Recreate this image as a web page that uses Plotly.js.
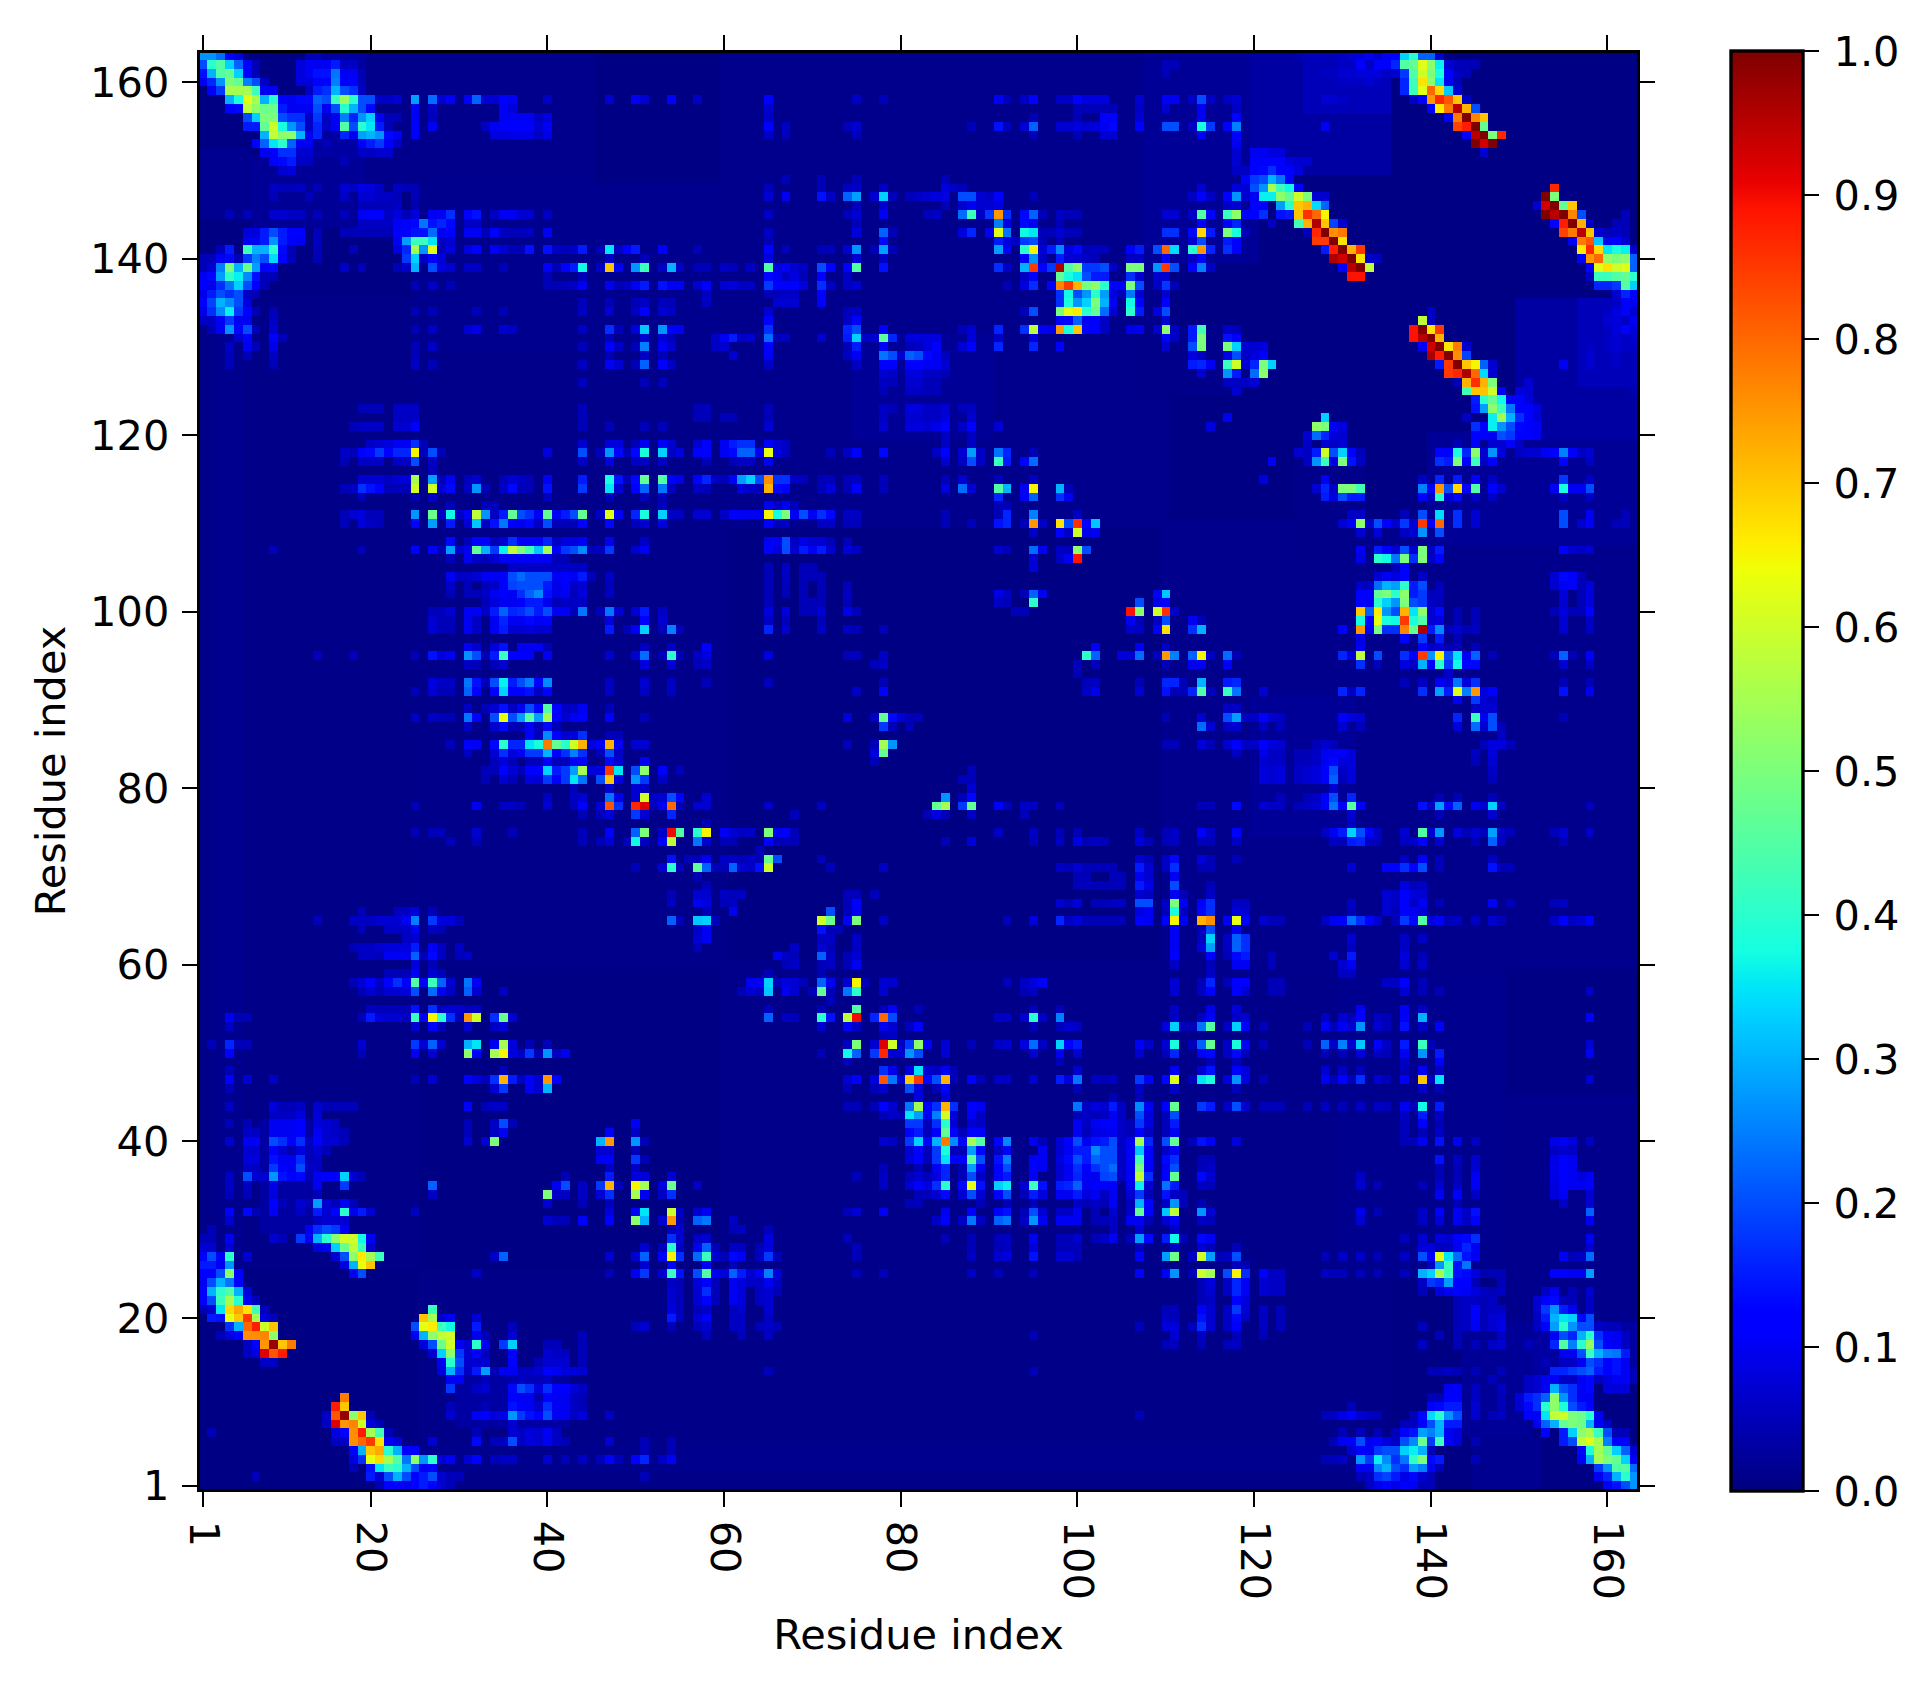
<!DOCTYPE html>
<html><head><meta charset="utf-8">
<script src="https://cdn.plot.ly/plotly-3.0.1.min.js"></script>
<style>html,body{margin:0;padding:0;background:#fff}</style></head>
<body><div id="chart" style="width:1927px;height:1689px"></div>
<script>
const tickValues=[1,20,40,60,80,100,120,140,160];
const tickLabels=['1','20','40','60','80','100','120','140','160'];
const colorTicks=[0,.1,.2,.3,.4,.5,.6,.7,.8,.9,1];
const axisTitle='Residue index';
const residueCount=163;
// faint haze read as blocks: x0,x1,y0,y1,value
const hazeBlocks=[
[1,25,26,135,.008],[3,5,26,135,.014],[1,6,145,152,.015],[7,20,144,151,.02],[13,20,152,163,.03],[20,45,148,163,.012],
[25,60,60,130,.01],[25,60,130,148,.014],[60,110,110,163,.012],[8,14,30,42,.03],[9,13,36,40,.045],
[108,120,140,163,.02],[120,135,150,163,.03],[126,135,157,163,.05],[75,90,120,131,.02],[36,44,100,105,.06],[107,118,125,132,.01]];
// contact rows: y, then x,value pairs
const stripNorthWest=[
[163,1,.27,2,.27,3,.23,4,.11,5,.08,13,.05,14,.05],
[162,1,.2,2,.4,3,.45,4,.33,5,.22,6,.11,7,.05,12,.08,13,.1,14,.1,15,.1,16,.15,17,.06,18,.06],
[161,1,.14,2,.3,3,.45,4,.47,5,.33,6,.11,7,.05,12,.08,13,.1,14,.14,15,.14,16,.24,17,.1,18,.1,19,.05],
[160,1,.1,2,.16,3,.27,4,.5,5,.47,6,.25,7,.2,8,.06,12,.08,13,.08,14,.11,15,.12,16,.25,17,.11,18,.11,19,.05],
[159,2,.1,3,.18,4,.55,5,.55,6,.55,7,.42,8,.1,9,.1,13,.06,14,.15,15,.17,16,.3,17,.2,18,.17,19,.06],
[158,4,.3,5,.38,6,.62,7,.55,8,.3,9,.4,10,.11,11,.1,12,.13,13,.13,14,.22,15,.2,16,.42,17,.53,18,.4,19,.2,20,.2,21,.06,22,.06,23,.07,25,.28,27,.23,28,.07,29,.1,31,.1,32,.22,33,.07,34,.07,35,.11,36,.1,40,.06,47,.07,50,.1,51,.07,54,.11],
[157,4,.12,5,.13,6,.58,7,.52,8,.48,9,.48,10,.15,11,.1,12,.1,13,.1,14,.2,15,.1,16,.2,17,.4,18,.3,19,.2,20,.13,25,.1,27,.06,35,.1,36,.08],
[156,6,.2,7,.33,8,.5,9,.5,10,.2,11,.17,12,.17,13,.06,14,.18,15,.06,16,.1,17,.25,18,.16,19,.27,20,.33,21,.1,22,.05,23,.05,25,.1,27,.05,35,.1,36,.1,37,.1,38,.1,39,.06,40,.08],
[155,6,.15,7,.15,8,.47,9,.6,10,.38,11,.27,12,.2,13,.06,14,.16,15,.06,16,.1,17,.45,18,.2,19,.4,20,.35,21,.15,22,.05,25,.12,27,.1,33,.06,34,.1,35,.12,36,.12,37,.12,38,.12,39,.07,40,.1],
[154,8,.3,9,.58,10,.52,11,.52,12,.3,13,.1,14,.16,17,.16,18,.1,19,.28,20,.3,21,.27,22,.13,23,.1,25,.12,34,.08,35,.08,36,.09,37,.09,38,.09,39,.06,40,.09],
[153,7,.12,8,.22,9,.35,10,.4,11,.22,12,.1,13,.1,15,.05,19,.12,20,.15,21,.18,22,.12,23,.06],
[152,8,.1,9,.12,10,.17,11,.17,12,.07,13,.07,19,.06,20,.06,21,.07,22,.07],
[151,9,.11,10,.13,11,.15,12,.06,13,.06,17,.05],
[150,10,.07,11,.08],
[148,9,.06,10,.05,11,.05,12,.06,14,.05,17,.07,18,.06,19,.09,20,.08,21,.06,23,.06,24,.05,25,.05],
[147,9,.05,13,.05,17,.06,19,.07,20,.07,21,.06,22,.06,23,.05,25,.05],
[146,19,.05,20,.05,21,.05,22,.05,23,.06,25,.04],
[145,4,.05,6,.05,9,.07,10,.07,11,.06,12,.06,14,.05,17,.05,19,.1,20,.11,21,.11,22,.06,23,.08,24,.05,25,.08,27,.1,28,.1,29,.17,31,.11,32,.14,34,.06,35,.1,36,.1,37,.07,38,.07,40,.06],
[144,19,.06,20,.06,21,.06,22,.06,23,.1,24,.11,25,.13,26,.24,27,.14,28,.16,29,.13,31,.06,32,.06],
[143,6,.08,7,.08,8,.15,9,.2,10,.15,11,.11,12,.11,14,.05,17,.05,18,.05,19,.05,20,.05,21,.05,22,.05,23,.11,24,.11,25,.14,26,.14,27,.23,28,.1,29,.12,31,.1,32,.1,33,.05,34,.11,35,.06,36,.05,37,.05,38,.06,40,.1],
[142,6,.1,7,.1,8,.15,9,.27,10,.15,11,.11,12,.1,14,.06,23,.1,24,.28,25,.42,26,.42,27,.35,28,.06,29,.07],
[141,3,.05,4,.15,6,.42,7,.3,8,.3,9,.4,10,.13,11,.05,14,.05,18,.05,23,.08,24,.16,25,.55,26,.27,27,.62,28,.05,29,.08,31,.08,32,.12,34,.1,35,.07,36,.05,37,.05,38,.14,40,.14,41,.06,42,.05,43,.06,44,.15,46,.05,47,.35,48,.06,49,.11,50,.15,53,.11],
[140,1,.05,2,.05,3,.1,4,.13,5,.05,6,.18,7,.25,8,.2,9,.34,10,.11,11,.05,14,.05,24,.18,25,.33,26,.06,27,.11,28,.08,47,.06,51,.05],
[139,1,.05,2,.07,3,.25,4,.5,5,.3,6,.48,7,.28,8,.11,9,.13,17,.06,19,.05,23,.05,24,.06,25,.3,27,.2,28,.08,29,.07,31,.06,32,.06,35,.05,40,.1,41,.05,42,.11,43,.15,44,.37,46,.06,47,.7,48,.1,50,.27,51,.42,53,.06,54,.3,55,.06],
[138,1,.1,2,.13,3,.28,4,.41,5,.36,6,.26,7,.14,8,.05,9,.05,40,.05,44,.05],
[137,1,.11,2,.09,3,.17,4,.24,5,.33,6,.2,7,.12,8,.05,25,.05,27,.06,29,.05,40,.05,41,.05,42,.05,43,.06,44,.1,47,.1,48,.05,49,.06,50,.1,51,.15,53,.14,54,.1],
[136,1,.09,2,.15,3,.2,4,.17,5,.2,6,.06,7,.05],
[135,1,.11,2,.19,3,.3,4,.26,5,.2,6,.08,44,.05,47,.05,50,.05,51,.06,53,.05,54,.05],
[134,1,.09,2,.17,3,.26,4,.36,5,.18,6,.11,7,.05,9,.05,25,.05,27,.05,32,.05,35,.05,44,.06,47,.07,50,.06,51,.11,53,.07,54,.06],
[133,1,.06,2,.06,3,.1,4,.18,5,.1,6,.1,9,.06],
[132,2,.05,3,.1,4,.27,5,.12,6,.2,7,.05,9,.07,25,.05,27,.06,31,.07,32,.09,35,.07,36,.06,44,.06,47,.17,48,.05,50,.08,51,.32,53,.27,54,.11],
[131,5,.07,6,.11,9,.11,10,.05,47,.05,51,.07,53,.07,54,.05],
[130,4,.06,6,.1,7,.05,9,.09,25,.05,27,.06,44,.05,47,.11,48,.06,50,.05,51,.25,53,.1,54,.07],
[129,4,.05,6,.05,9,.06,25,.05,47,.05,51,.06,53,.05],
[128,4,.05,9,.05,25,.06,27,.05,44,.06,47,.1,48,.07,50,.05,51,.22,53,.11,54,.06],
[126,44,.05,51,.05,53,.05],
[123,19,.05,20,.05,21,.05,23,.06,24,.06,25,.06,44,.05],
[122,23,.06,24,.06,25,.06,44,.05],
[121,18,.05,19,.06,20,.06,21,.06,23,.07,24,.07,25,.11,44,.05,47,.05,51,.05,53,.05],
[119,20,.06,21,.07,22,.08,23,.1,24,.1,25,.17,26,.05,44,.07,47,.08,48,.08,50,.05,51,.1,53,.11,54,.07],
[118,17,.06,18,.05,19,.11,20,.13,21,.18,22,.11,23,.16,24,.16,25,.65,26,.05,27,.2,28,.05,40,.08,44,.2,46,.05,47,.27,48,.11,49,.05,50,.13,51,.38,53,.33,54,.06],
[117,17,.05,19,.06,20,.06,21,.06,23,.06,24,.06,25,.2,27,.06,44,.06,47,.08,50,.06,51,.06,53,.06],
[116,27,.05],
[115,19,.07,20,.07,21,.07,22,.06,23,.07,24,.08,25,.55,27,.28,28,.05,29,.1,31,.05,32,.07,35,.05,36,.07,37,.06,38,.05,40,.1,44,.15,47,.38,48,.14,49,.05,50,.13,51,.47,53,.45,54,.11],
[114,17,.05,18,.06,19,.17,20,.14,21,.12,22,.05,23,.05,24,.05,25,.6,27,.6,28,.07,29,.13,31,.06,32,.27,33,.05,35,.06,36,.13,37,.05,38,.05,40,.14,44,.18,47,.35,48,.07,50,.12,51,.22,53,.24,54,.06],
[113,19,.05,25,.05,27,.06,40,.05,47,.05,51,.05,53,.05],
[112,29,.05,33,.05,34,.05,53,.05],
[111,17,.05,18,.07,19,.08,20,.05,21,.05,25,.27,27,.48,28,.06,29,.37,30,.06,31,.1,32,.58,33,.27,34,.06,35,.15,36,.47,37,.2,38,.17,39,.1,40,.47,41,.1,42,.15,43,.2,44,.47,46,.06,47,.62,48,.1,50,.16,51,.38,53,.33,54,.06],
[110,17,.05,19,.08,20,.06,21,.05,25,.12,27,.28,29,.15,31,.07,32,.32,33,.06,34,.14,35,.24,36,.12,37,.1,38,.13,39,.06,40,.2,41,.05,42,.05,43,.05,44,.12,47,.13,50,.05,51,.07,53,.08]];
const stripWest=[
[108,29,.13,31,.05,32,.12,33,.12,34,.05,35,.07,36,.17,37,.11,38,.12,39,.11,40,.16,41,.06,42,.08,43,.08,44,.1,47,.1,51,.06],
[107,9,.05,19,.05,25,.11,27,.12,28,.05,29,.28,30,.07,31,.1,32,.47,33,.3,34,.18,35,.36,36,.58,37,.5,38,.43,39,.32,40,.55,41,.12,42,.18,43,.2,44,.26,45,.05,46,.06,47,.18,50,.07,51,.1],
[106,29,.05,31,.1,32,.06,33,.05,34,.07,35,.1,36,.1,37,.1,38,.1,39,.1,40,.1,41,.05,42,.05],
[104,29,.1,30,.06,31,.06,32,.07,33,.1,34,.1,35,.11,36,.2,37,.23,38,.2,39,.2,40,.2,41,.1,42,.12,43,.1,44,.15,45,.05,47,.06],
[103,29,.06,31,.05,33,.05,34,.06,35,.11,36,.19,37,.2,38,.2,39,.2,40,.15,41,.09,42,.11,44,.07,47,.05],
[102,29,.05,31,.05,32,.05,33,.06,34,.1,35,.11,36,.1,37,.17,38,.22,39,.26,40,.14,41,.09,42,.1,43,.05,44,.08,47,.06],
[101,33,.05,34,.08,35,.1,36,.1,37,.11,38,.15,39,.15,40,.1,41,.05],
[100,27,.05,28,.05,29,.07,31,.1,32,.1,33,.06,34,.15,35,.22,36,.16,37,.17,38,.2,39,.15,40,.2,41,.1,42,.1,43,.05,44,.24,46,.05,47,.24,48,.07,50,.07,51,.15,53,.06],
[99,27,.07,28,.05,29,.05,31,.1,32,.06,34,.1,35,.16,36,.1,37,.1,38,.13,39,.1,40,.11,47,.08,51,.11,53,.07],
[98,27,.07,28,.05,29,.05,31,.1,32,.06,34,.1,35,.15,36,.07,37,.07,38,.08,39,.07,40,.07,47,.15,49,.05,50,.1,51,.33,53,.05,54,.25,55,.06],
[96,31,.1,32,.07,34,.08,35,.14,37,.1,38,.1,39,.1,40,.05,51,.06,54,.06],
[95,14,.05,18,.05,25,.05,27,.14,28,.08,29,.1,31,.27,32,.2,33,.05,34,.15,35,.42,36,.11,37,.11,38,.12,40,.1,47,.07,50,.07,51,.23,53,.05,54,.4,55,.05],
[94,31,.06,32,.05,34,.05,35,.07,51,.08,54,.07],
[92,27,.08,28,.06,29,.06,31,.24,32,.14,33,.05,34,.2,35,.36,36,.15,37,.2,38,.25,39,.11,40,.26,47,.06,51,.07,54,.06],
[91,25,.05,27,.07,28,.05,29,.05,31,.22,32,.11,34,.11,35,.33,36,.11,37,.11,38,.14,39,.06,40,.11,47,.06,51,.06,54,.06],
[89,31,.06,33,.05,34,.07,35,.14,36,.06,37,.1,38,.2,39,.13,40,.45,41,.12,42,.06,43,.06,44,.1,47,.05],
[88,25,.06,27,.06,28,.05,29,.05,31,.24,32,.12,34,.2,35,.63,36,.2,37,.28,38,.46,39,.28,40,.55,41,.11,42,.07,43,.1,44,.11,47,.12,51,.05],
[87,31,.06,34,.07,35,.13,36,.05,37,.05,38,.12,39,.05,40,.13,41,.05],
[86,38,.11,39,.05,40,.26,41,.11,42,.07,43,.08,44,.17,47,.05,48,.05],
[85,29,.05,31,.11,32,.1,34,.13,35,.4,36,.16,37,.16,38,.35,39,.38,40,.78,41,.47,42,.4,43,.6,44,.72,45,.08,46,.11,47,.72,48,.1,50,.07,51,.07],
[84,31,.06,34,.07,35,.17,36,.08,37,.1,38,.18,39,.18,40,.3,41,.12,42,.17,43,.25,44,.17,46,.05,47,.2,48,.06],
[83,34,.05,35,.08,36,.05,38,.05,39,.05,40,.11,41,.05,42,.05,43,.1,44,.12,47,.13,48,.07,51,.1],
[82,33,.05,34,.05,35,.11,36,.07,37,.05,38,.11,39,.11,40,.33,41,.15,42,.18,43,.28,44,.55,45,.08,46,.08,47,.85,48,.35,50,.2,51,.52,53,.11,55,.05],
[81,33,.05,35,.07,36,.05,38,.08,39,.07,40,.18,41,.11,42,.18,43,.35,44,.24,46,.2,47,.7,48,.08,50,.27,51,.18,53,.06],
[80,43,.05,47,.07,50,.07,51,.06],
[79,40,.06,43,.06,44,.07,47,.24,48,.09,50,.07,51,.6,52,.06,53,.07,54,.2,55,.12],
[78,25,.05,32,.1,35,.06,36,.06,37,.05,40,.07,43,.05,44,.11,46,.07,47,.82,48,.17,50,.87,51,.92,52,.05,53,.1,54,.8],
[77,44,.05,46,.05,47,.08,50,.18,51,.07,54,.16],
[75,25,.05,27,.05,28,.05,32,.07,36,.05,44,.05,47,.11,50,.22,51,.5,53,.06,54,.9,55,.42],
[74,29,.05,32,.05,44,.05,46,.05,47,.07,49,.05,50,.37,51,.06,53,.11,54,.58],
[72,54,.14],
[71,50,.05,53,.07,54,.4,55,.05],
[67,54,.06],[68,54,.05],
[66,19,.05,23,.05,24,.06,25,.08,27,.05],
[65,14,.05,18,.06,19,.06,20,.06,21,.07,22,.07,23,.07,24,.1,25,.25,27,.18,28,.08,29,.08,30,.05,54,.22],
[64,19,.05,22,.06,23,.06,24,.06,25,.1,27,.06,28,.05],
[63,24,.06,25,.07],
[62,18,.05,19,.06,20,.06,21,.07,22,.08,23,.08,24,.08,25,.15,27,.1,28,.06,30,.06],
[61,19,.06,20,.06,21,.05,22,.1,23,.1,24,.1,25,.22,26,.05,27,.13,28,.06,30,.05,31,.06],
[60,25,.08,27,.05],
[59,22,.05,23,.05,24,.05,25,.1,27,.07,28,.05],
[58,18,.05,19,.07,20,.11,21,.06,22,.11,23,.17,24,.11,25,.45,26,.1,27,.42,28,.22,29,.07,31,.24,32,.1],
[57,19,.05,20,.07,21,.05,22,.07,23,.07,24,.08,25,.2,27,.23,28,.1,29,.06,31,.22,32,.07,35,.06],
[55,20,.06,21,.05,22,.05,23,.05,24,.05,25,.17,27,.2,28,.1,29,.07,30,.07,31,.07,32,.07]];
const stripSouthWest=[
[54,4,.1,5,.05,6,.05,19,.2,20,.06,21,.06,22,.06,23,.06,24,.06,25,.42,26,.1,27,.65,28,.38,29,.2,30,.08,31,.76,32,.6,34,.15,35,.5,36,.07],
[53,4,.06,25,.07,27,.12,28,.05,31,.07,34,.07,35,.1],
[51,2,.05,4,.16,5,.05,6,.05,19,.07,25,.2,27,.2,28,.07,31,.3,32,.35,34,.11,35,.58,36,.07,38,.05,40,.05],
[50,4,.11,19,.05,25,.11,27,.07,31,.53,32,.1,34,.58,35,.63,36,.06,37,.07,38,.2,39,.06,40,.3,41,.06,42,.1],
[48,4,.05],
[47,4,.11,6,.07,9,.06,25,.05,27,.05,31,.11,32,.11,34,.17,35,.68,36,.17,37,.06,38,.13,39,.08,40,.76,41,.12],
[46,4,.05,34,.06,35,.2,38,.11,39,.07,40,.3],
[44,4,.06,9,.08,10,.05,11,.05,12,.06,14,.07,15,.05,16,.05,17,.05,18,.05,31,.12,33,.05,34,.06],
[43,9,.06,10,.06,11,.06,12,.08,14,.08],
[42,4,.05,6,.05,9,.1,10,.1,11,.1,12,.12,14,.08,15,.07,16,.06,31,.06,34,.08,35,.24,36,.05],
[41,6,.06,7,.06,9,.1,10,.1,11,.1,12,.12,14,.1,15,.07,16,.06,17,.05,34,.07,35,.12],
[40,4,.07,6,.1,7,.1,9,.2,10,.17,11,.11,12,.17,13,.06,14,.11,15,.07,16,.07,17,.05,31,.07,33,.07,34,.47,46,.3,47,.75,50,.27],
[39,6,.07,7,.07,9,.11,10,.07,12,.08,13,.05,14,.07,15,.05,46,.07,47,.07,50,.05],
[38,6,.08,7,.08,9,.14,10,.1,11,.1,12,.17,13,.05,14,.06,46,.1,47,.12,50,.18,51,.05],
[37,6,.06,7,.06,9,.18,10,.11,11,.1,12,.2,13,.06,14,.06,50,.06],
[36,4,.06,6,.2,7,.07,8,.07,9,.27,10,.14,11,.11,12,.13,14,.1,15,.12,16,.12,17,.33,18,.07,19,.05,47,.15,50,.08,51,.08],
[35,4,.06,6,.06,9,.09,14,.1,17,.18,27,.2,41,.1,42,.2,44,.06,46,.18,47,.72,48,.05,50,.65,51,.55,53,.08,54,.48],
[34,4,.05,6,.05,9,.08,14,.05,40,.5,41,.06,42,.06,46,.07,47,.17,50,.55,51,.1,53,.06,54,.17],
[33,9,.12,10,.05,12,.07,13,.05,14,.28,15,.07,16,.05,17,.1,18,.05,47,.05],
[32,4,.11,6,.13,7,.05,9,.1,12,.06,14,.15,15,.07,16,.11,17,.4,18,.09,19,.15,20,.07,25,.05,47,.08,50,.11,51,.35,54,.6,55,.06],
[31,4,.07,14,.06,15,.07,16,.07,17,.07,41,.05,42,.05,44,.11,47,.11,50,.52,51,.3,53,.07,54,.75,55,.05],
[30,2,.05,13,.1,14,.17,15,.2,16,.18,17,.1,54,.05],
[29,1,.05,2,.05,4,.1,9,.07,10,.05,12,.18,13,.1,14,.3,15,.4,16,.52,17,.6,18,.6,19,.37,20,.1,54,.17],
[28,1,.07,2,.07,4,.07,14,.08,15,.1,16,.33,17,.48,18,.58,19,.42,20,.07,51,.07,54,.4,55,.06],
[27,1,.12,2,.2,3,.12,4,.4,6,.07,16,.07,17,.2,18,.52,19,.66,20,.55,21,.42,34,.06,35,.22,47,.07,50,.07,51,.22,53,.11,54,.65,55,.17],
[26,1,.15,2,.15,3,.1,4,.27,17,.08,18,.3,19,.63,20,.7,51,.07,54,.11],
[25,1,.11,2,.11,3,.2,4,.52,5,.12,18,.1,19,.2,32,.06,50,.1,51,.18,54,.42,55,.14],
[24,1,.1,2,.2,3,.3,4,.24,5,.11],
[23,1,.11,2,.3,3,.4,4,.45,5,.3,6,.08,54,.07],
[22,1,.12,2,.2,3,.42,4,.55,5,.4,6,.1,7,.05,54,.07],
[21,1,.05,2,.07,3,.35,4,.68,5,.73,6,.67,7,.43,8,.05,54,.08],
[20,2,.15,3,.14,4,.63,5,.7,6,.85,7,.55,8,.08,9,.05,54,.15],
[19,4,.17,5,.3,6,.8,7,.88,8,.6,9,.7,54,.05],
[18,3,.05,4,.08,5,.12,6,.76,7,.76,8,.77,9,.52],
[17,6,.06,7,.12,8,.75,9,.98,10,.7,11,.78],
[16,6,.06,7,.08,8,.92,9,.82,10,.88],
[15,8,.06,9,.06],
[7,2,.05]];
const stripNorthCentre=[
[158,57,.06,65,.12,75,.06,78,.05,91,.1,92,.05,94,.06,95,.12,98,.06,99,.06,100,.12,101,.08,102,.08,103,.08,107,.07,110,.08,111,.08],
[157,65,.07,100,.05,101,.05,102,.05,103,.05,104,.05,107,.06],
[156,65,.06,95,.05,100,.05,103,.11,104,.12,107,.07],
[155,65,.12,67,.06,74,.05,75,.07,88,.05,91,.14,92,.05,94,.07,95,.22,98,.07,99,.07,100,.08,101,.07,102,.08,103,.1,104,.13,107,.12,110,.2,111,.2],
[154,65,.06,67,.05,75,.05,95,.05,100,.05,103,.07,104,.07],
[149,67,.05,71,.05,75,.05,85,.05],
[148,65,.05,71,.05,74,.06,75,.06,78,.06,85,.08,86,.06,87,.05],
[147,65,.07,67,.1,71,.14,72,.06,74,.22,75,.28,77,.07,78,.33,79,.05,81,.05,82,.06,83,.07,84,.08,85,.08,87,.2,88,.2,89,.07,90,.06,91,.11,95,.05],
[146,75,.05,78,.07,85,.05,87,.07,88,.1,89,.07,90,.07,91,.08],
[145,65,.06,74,.05,75,.07,78,.1,83,.05,84,.06,87,.23,88,.42,89,.06,90,.18,91,.75,92,.17,94,.13,95,.22,96,.05,98,.06,99,.05,100,.05,110,.06,111,.06],
[144,75,.05,91,.25,92,.08,94,.13,95,.1,98,.05],
[143,65,.06,75,.08,78,.22,79,.05,87,.08,88,.16,90,.1,91,.62,92,.24,94,.37,95,.35,96,.05,97,.05,98,.07,99,.05,100,.05,110,.17,111,.17],
[142,65,.05,78,.13,91,.15,92,.08,93,.06,94,.18,95,.2,96,.05,98,.05],
[141,57,.05,65,.11,67,.05,71,.05,72,.05,74,.07,75,.27,77,.05,78,.28,79,.05,91,.28,92,.1,94,.4,95,.65,96,.07,97,.15,98,.26,99,.08,100,.13,101,.05,102,.06,103,.05,106,.11,107,.15,109,.2,110,.82,111,.34],
[140,65,.08,75,.07,78,.06,94,.12,95,.27,96,.06,98,.15,99,.07,100,.07,101,.06,102,.05,106,.06,107,.06,110,.11],
[139,57,.05,58,.05,60,.06,61,.05,63,.06,65,.45,66,.08,67,.1,68,.07,69,.06,71,.2,72,.11,74,.11,75,.45,78,.14,91,.17,92,.06,94,.3,95,.85,96,.11,97,.18,98,.96,99,.45,100,.52,101,.18,102,.18,103,.2,104,.06,106,.5,107,.5,109,.27,110,.86,111,.2],
[138,65,.13,66,.1,67,.06,68,.08,69,.05,71,.12,74,.06,94,.06,95,.11,98,.47,99,.38,100,.35,101,.2,102,.15,103,.15,106,.17,107,.07,109,.07],
[137,55,.1,57,.07,58,.11,60,.07,61,.08,62,.06,63,.06,65,.18,66,.12,67,.12,68,.12,69,.08,71,.17,72,.06,74,.06,75,.07,92,.05,94,.08,95,.17,97,.11,98,.77,99,.85,100,.72,101,.5,102,.52,103,.4,104,.11,105,.11,106,.5,107,.2,109,.06,110,.18,111,.06],
[136,58,.06,65,.05,66,.05,67,.06,68,.06,71,.11,98,.17,99,.37,100,.2,101,.27,102,.4,103,.28,104,.08,105,.05,106,.24,107,.07],
[135,58,.06,66,.07,67,.07,68,.07,71,.11,98,.17,99,.38,100,.27,101,.33,102,.5,103,.3,104,.1,106,.37,107,.11,110,.11],
[134,65,.07,74,.05,75,.06,94,.05,95,.2,98,.5,99,.63,100,.66,101,.4,102,.47,103,.23,104,.07,106,.4,107,.15,109,.08,110,.2],
[133,65,.11,74,.06,75,.12,98,.11,99,.13,100,.22,101,.1,102,.11,103,.06],
[132,55,.1,65,.17,74,.16,75,.2,78,.11,87,.05,88,.07,91,.16,94,.17,95,.58,96,.1,97,.09,98,.75,99,.38,100,.7,101,.11,102,.11,103,.06,106,.09,107,.1,109,.07,110,.52],
[131,59,.06,60,.1,61,.15,62,.06,63,.07,65,.23,66,.05,67,.06,71,.07,74,.15,75,.33,76,.06,77,.07,78,.46,79,.16,81,.08,82,.08,83,.08,84,.08,88,.08,91,.06,95,.08,110,.15,111,.06],
[130,59,.06,60,.07,65,.12,74,.05,75,.15,78,.12,81,.05,82,.06,83,.08,84,.12,87,.07,88,.12,91,.16,95,.16,98,.11],
[129,61,.07,65,.1,74,.06,75,.1,78,.24,79,.2,80,.07,81,.22,82,.2,83,.13,84,.1,85,.05],
[128,65,.06,75,.06,78,.12,79,.12,81,.12,82,.12,83,.1,84,.1,85,.07],
[127,78,.07,79,.06,81,.08,82,.08,83,.06,84,.06,85,.05],
[126,78,.06,79,.05,81,.07,82,.07,83,.05,84,.05],
[125,78,.05,81,.06,82,.06,83,.05,84,.05],
[123,57,.05,58,.05,65,.05,78,.06,79,.05,81,.08,82,.08,83,.06,84,.06,85,.07,87,.05,88,.06],
[122,57,.05,58,.05,60,.05,61,.05,65,.05,78,.06,81,.07,82,.07,83,.06,84,.06,85,.08,88,.07],
[121,65,.07,78,.07,81,.08,82,.08,83,.07,84,.09,85,.11,87,.06,88,.11,91,.07],
[120,85,.06,88,.06],
[119,57,.07,58,.11,60,.1,61,.15,62,.17,63,.17,65,.12,66,.07,67,.06,85,.06,88,.06],
[118,55,.08,57,.11,58,.11,60,.1,61,.13,62,.22,63,.22,64,.1,65,.63,66,.08,67,.06,72,.05,74,.06,75,.11,78,.13,84,.06,85,.12,87,.07,88,.28,89,.06,91,.24,92,.16,95,.05],
[117,58,.05,61,.05,62,.06,63,.06,65,.1,85,.07,87,.06,88,.2,89,.06,91,.42,92,.15,94,.11,95,.23],
[115,55,.09,57,.11,58,.16,59,.06,60,.05,61,.11,62,.28,63,.33,64,.2,65,.76,66,.17,67,.17,68,.06,69,.05,71,.05,72,.05,74,.05,75,.06,78,.05,85,.05,87,.07,91,.05,95,.06],
[114,57,.06,58,.05,62,.08,63,.06,64,.05,65,.72,66,.13,67,.11,71,.05,72,.08,74,.05,75,.11,78,.05,85,.08,87,.23,88,.07,91,.45,92,.3,94,.1,95,.65,98,.3,99,.05],
[113,91,.16,94,.1,95,.22,98,.17,99,.1],
[112,65,.1,66,.06,67,.1,68,.05,91,.05,92,.05],
[111,55,.06,57,.07,58,.07,60,.06,61,.12,62,.1,63,.1,64,.1,65,.65,66,.38,67,.5,68,.1,69,.2,70,.1,71,.17,72,.13,74,.06,75,.06,85,.06,91,.06,92,.1,95,.28],
[110,65,.11,66,.05,67,.06,71,.06,72,.06,74,.05,75,.05,88,.05,91,.11,92,.13,94,.05,95,.73,96,.05,98,.67,99,.2,100,.87,101,.07,102,.3],
[109,98,.1,99,.07,100,.55,101,.07,102,.06]];
const stripCentre=[
[108,65,.1,66,.1,67,.2,68,.06,69,.09,70,.07,71,.07,72,.05,74,.05],
[107,65,.11,66,.08,67,.2,68,.07,69,.15,70,.1,71,.15,72,.07,74,.08,75,.06,91,.06,92,.06,95,.25,96,.1,98,.06,99,.07,100,.55,101,.22],
[106,95,.07,98,.06,99,.1,100,.89],
[105,65,.05,67,.06,69,.05,70,.05],
[104,65,.05,67,.06,69,.05,70,.05,71,.05],
[103,65,.05,67,.05,69,.05,71,.05,74,.05],
[102,65,.05,67,.05,69,.05,71,.05,74,.06,91,.09,95,.27,96,.1,109,.1,110,.32],
[101,65,.05,69,.05,70,.05,71,.05,74,.05,91,.06,95,.4,107,.2,109,.09,110,.11],
[100,65,.08,67,.08,69,.05,70,.05,71,.07,74,.09,75,.05,93,.05,94,.05,106,.89,107,.52,109,.6,110,.86,111,.06],
[99,65,.06,67,.05,71,.05,106,.1,107,.05,109,.06,110,.2],
[98,55,.05,65,.16,67,.07,71,.06,74,.06,75,.05,78,.06,106,.06,109,.11,110,.67],
[96,58,.11,102,.1,107,.1,110,.06],
[95,57,.06,58,.08,65,.08,74,.05,75,.06,78,.07,101,.4,102,.22,105,.08,107,.23,109,.06,110,.75,111,.25],
[94,57,.05,58,.06,77,.05,78,.07,102,.05],
[92,58,.05,65,.05,101,.05,102,.06,107,.05,110,.16,111,.16],
[91,75,.06,78,.17,107,.07,110,.14,111,.05],
[88,74,.08,77,.06,78,.47,79,.13,80,.07,81,.05,82,.05,110,.05],
[87,78,.2,81,.05],
[85,74,.05,77,.06,78,.55,79,.27,110,.05,111,.05],
[84,77,.08,78,.47],
[79,85,.27,87,.05,88,.13],
[78,55,.05,57,.07,58,.07,65,.06,71,.06,84,.47,85,.55,87,.18,88,.47,91,.12,92,.05,94,.06,95,.06,98,.05],
[77,68,.05,83,.05,84,.08,85,.05,94,.05],
[75,55,.47,57,.4,58,.62,60,.1,61,.08,63,.06,65,.5,66,.1,67,.12,68,.05],
[74,57,.26,58,.06,60,.05,65,.12,66,.05,67,.05,68,.05],
[72,56,.05,57,.07,58,.11,60,.06,61,.05,63,.06,65,.47,66,.2,71,.05],
[71,57,.5,58,.2,59,.05,60,.24,61,.08,63,.06,64,.14,65,.62],
[68,57,.06,58,.06,60,.06,61,.05],
[67,57,.12,58,.08,60,.05,61,.11],
[65,57,.28,58,.3,59,.05,71,.6,72,.48,74,.11,75,.5],
[64,57,.06,58,.1,71,.14,72,.05,73,.05],
[62,68,.06,71,.07,72,.05,75,.06],
[61,66,.1,67,.06,68,.05,71,.22,72,.06,74,.05,75,.07],
[60,71,.05],[59,65,.05],
[58,63,.1,65,.33,66,.05,67,.08,68,.07,69,.05,71,.22,72,.1,74,.07,75,.65,76,.05,78,.07,79,.07],
[57,62,.05,63,.07,65,.32,67,.1,68,.07,70,.05,71,.47,72,.05,74,.24,75,.4,78,.07],
[55,65,.05,71,.05,75,.45,78,.05,79,.11]];
const stripNorthEast=[
[163,130,.06,131,.07,132,.08,133,.1,134,.07,135,.1,136,.12,137,.33,138,.4,139,.22,140,.22,141,.07,125,.04],
[162,110,.05,111,.05,128,.05,130,.06,131,.06,132,.12,133,.06,134,.11,135,.11,136,.16,137,.45,138,.47,139,.62,140,.52,141,.36,142,.07,143,.05,144,.05,145,.05],
[161,110,.05,128,.06,129,.06,130,.07,131,.07,132,.08,133,.08,134,.08,135,.06,136,.07,137,.18,138,.45,139,.6,140,.5,141,.38,142,.11,143,.06,144,.05],
[160,130,.06,131,.06,132,.06,133,.07,134,.06,137,.16,138,.42,139,.67,140,.52,141,.35,142,.1,143,.05],
[159,137,.16,138,.42,139,.62,140,.8,141,.68,142,.32,143,.07],
[158,110,.1,111,.1,113,.06,114,.2,115,.06,117,.06,118,.07,128,.07,129,.07,130,.06,138,.06,139,.12,140,.75,141,.87,142,.82,143,.7,144,.06],
[157,110,.07,114,.1,118,.06,140,.12,141,.66,142,.78,143,.95,144,.72,145,.2],
[156,114,.1,118,.11,142,.1,143,.78,144,1,145,.77,146,.7],
[155,110,.2,111,.2,113,.06,114,.38,115,.18,117,.11,118,.25,128,.1,143,.84,144,.88,145,1,146,.47],
[154,114,.1,118,.12,144,.11,145,.95,146,1,147,.5,148,.87],
[153,118,.1,145,1,146,.93,147,1],
[152,118,.07,120,.1,121,.1,122,.08,123,.08,146,.07],
[151,118,.07,120,.11,121,.11,122,.12,123,.12,124,.08,125,.07,126,.07],
[150,118,.06,119,.06,120,.12,121,.13,122,.17,123,.11,124,.11,125,.08],
[149,119,.11,120,.18,121,.2,122,.3,123,.24,124,.12],
[148,114,.07,118,.08,119,.07,120,.2,121,.27,122,.55,123,.42,124,.37,125,.11],
[147,113,.06,114,.11,115,.06,117,.11,118,.27,119,.07,120,.1,121,.36,122,.36,123,.52,124,.47,125,.6,126,.5,127,.07,128,.07],
[146,117,.06,118,.07,120,.11,121,.11,123,.28,124,.4,125,.7,126,.72,127,.34,128,.22],
[145,110,.07,111,.07,113,.06,114,.45,115,.11,117,.42,118,.52,119,.11,120,.11,121,.17,123,.14,124,.15,125,.7,126,.86,127,.8,128,.65],
[144,114,.11,117,.11,118,.16,122,.06,125,.43,126,.72,127,.96,128,.7,129,.19,130,.07],
[143,110,.17,111,.17,113,.13,114,.68,115,.15,117,.5,118,.38,119,.05,126,.05,127,.87,128,1,129,.76,130,.78],
[142,113,.07,114,.2,117,.15,118,.12,127,.85,128,.85,129,1,130,.67],
[141,110,.8,111,.34,113,.4,114,.75,115,.16,117,.17,118,.12,128,.15,129,.88,130,1,131,.72,132,.85],
[140,110,.11,113,.06,114,.12,129,.96,130,.93,131,1,132,.67,133,.06,134,.06],
[139,110,.85,111,.2,113,.11,114,.25,115,.06,130,.11,131,.95,132,1,133,.58],
[138,110,.07,131,.89,132,.89],
[137,110,.18,111,.05],[136,110,.07],[135,110,.11],[134,110,.2],[133,110,.07],
[132,110,.52,111,.06,113,.12,114,.42,117,.06,118,.07],
[131,110,.11,113,.17,114,.5,117,.16,118,.12],
[130,110,.07,113,.22,114,.5,117,.55,118,.32,119,.07,120,.07,121,.1],
[129,113,.11,114,.06,117,.11,118,.17,119,.06,120,.08,121,.11],
[128,113,.15,114,.12,117,.42,118,.62,119,.07,120,.17,121,.5,122,.33],
[127,117,.25,118,.12,120,.25,121,.5],
[126,117,.06,118,.06,119,.06],
[122,128,.33],
[121,115,.08,127,.52,128,.5,129,.11,130,.08],
[120,126,.07,127,.23,128,.16,129,.08],
[118,125,.07,127,.15,128,.6,129,.2,130,.33,131,.12,132,.05],
[117,122,.1,126,.06,127,.27,128,.42,129,.09,130,.5,131,.14],
[115,128,.1],
[114,127,.07,128,.16,130,.5,131,.5,132,.43],
[113,129,.08,130,.2,131,.15,132,.15]];

const stripRows=[stripNorthWest,stripWest,stripSouthWest,stripNorthCentre,stripCentre,stripNorthEast];
const residues=[];for(let i=1;i<=residueCount;i++)residues.push(i);
const z=residues.map(()=>residues.map(()=>0.004));
hazeBlocks.forEach(([x0,x1,y0,y1,v])=>{for(let y=y0;y<=y1;y++)for(let x=x0;x<=x1;x++){z[y-1][x-1]=v;z[x-1][y-1]=v;}});
stripRows.forEach(t=>t.forEach(r=>{const y=r[0];for(let k=1;k<r.length;k+=2){const x=r[k],v=r[k+1];z[y-1][x-1]=v;z[x-1][y-1]=v;}}));
const jet=[[0,'rgb(0,0,127)'],[.11,'rgb(0,0,255)'],[.125,'rgb(0,0,255)'],[.34,'rgb(0,219,255)'],[.35,'rgb(0,230,247)'],[.375,'rgb(21,255,226)'],[.64,'rgb(239,255,8)'],[.65,'rgb(247,246,0)'],[.66,'rgb(255,236,0)'],[.89,'rgb(255,19,0)'],[.91,'rgb(232,0,0)'],[1,'rgb(127,0,0)']];
const f={family:'DejaVu Sans',size:41.5,color:'#000'};
const axis={tickmode:'array',tickvals:tickValues,ticktext:tickLabels,ticks:'outside',ticklen:15,tickwidth:2,tickcolor:'#000',showline:true,linewidth:3.4,linecolor:'#000',mirror:'ticks',showgrid:false,zeroline:false,tickfont:f,autorange:false};
Plotly.newPlot('chart',[{type:'heatmap',x:residues,y:residues,z:z,zmin:0,zmax:1,zsmooth:false,colorscale:jet,hoverongaps:false,
 colorbar:{thicknessmode:'pixels',thickness:72,lenmode:'pixels',len:1440,x:1.0657,xanchor:'left',xpad:0,y:.5,yanchor:'middle',ypad:0,outlinewidth:3.4,outlinecolor:'#000',ticks:'outside',ticklen:15,tickwidth:2,tickcolor:'#000',tickvals:colorTicks,tickformat:'.1f',tickfont:f,borderwidth:0}}],
{width:1927,height:1689,paper_bgcolor:'#fff',plot_bgcolor:'#fff',margin:{l:200,r:290.4,t:52.7,b:200,autoexpand:false},showlegend:false,
 xaxis:Object.assign({},axis,{range:[.66,163.35],tickangle:90,ticklabelstandoff:5,title:{text:axisTitle,font:f,standoff:22}}),
 yaxis:Object.assign({},axis,{range:[.63,163.29],tickangle:0,ticklabelstandoff:4,title:{text:axisTitle,font:f,standoff:12}})},
{displayModeBar:false,staticPlot:true}).then(()=>{
 document.querySelectorAll('.colorbar .cbaxis text, .colorbar .ytick text').forEach(t=>{t.setAttribute('x',(+t.getAttribute('x'))+6);});
});
</script></body></html>
